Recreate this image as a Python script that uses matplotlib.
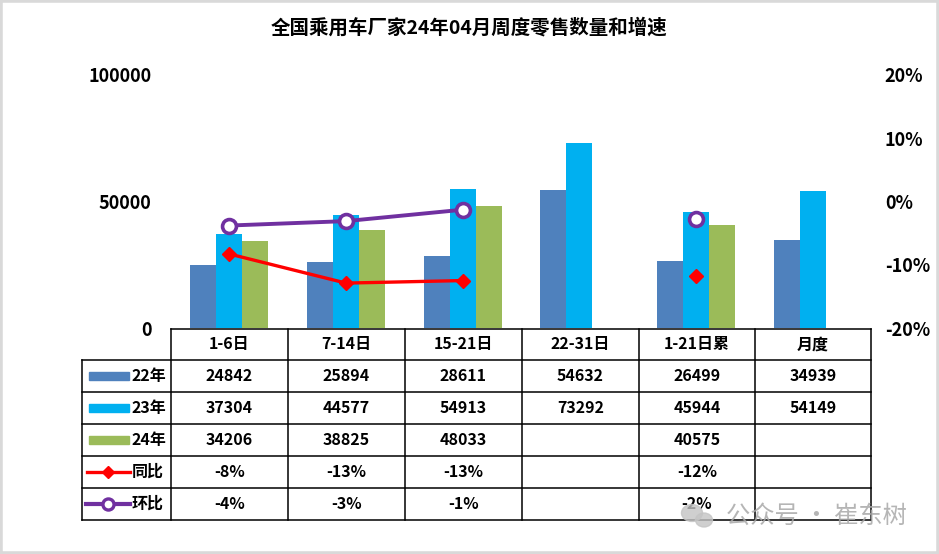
import numpy as np
import matplotlib.pyplot as plt
from matplotlib.patches import Rectangle, Ellipse

plt.rcParams['font.family'] = ['Noto Sans CJK SC', 'DejaVu Sans']

# data
periods = ['1-6日', '7-14日', '15-21日', '22-31日', '1-21日累', '月度']
sales_22 = [24842, 25894, 28611, 54632, 26499, 34939]
sales_23 = [37304, 44577, 54913, 73292, 45944, 54149]
sales_24 = [34206, 38825, 48033, np.nan, 40575, np.nan]
yoy = [-8.3, -12.9, -12.5, np.nan, -11.7, np.nan]     # 同比 %
mom = [-3.8, -3.1, -1.3, np.nan, -2.8, np.nan]       # 环比 %
yoy_txt = ['-8%', '-13%', '-13%', '', '-12%', '']
mom_txt = ['-4%', '-3%', '-1%', '', '-2%', '']

c22, c23, c24 = '#4F81BD', '#00B0F0', '#9BBB59'
cred, cpur = '#FF0000', '#7030A0'

W, H = 939, 554
fig = plt.figure(figsize=(W / 100, H / 100), dpi=100)

def fx(px):
    return px / W

def fy(py):
    return 1 - py / H

# main chart area
left, right, top, bot = 171, 871, 75, 328
ax = fig.add_axes([fx(left), fy(bot), fx(right - left), (bot - top) / H])
x = np.arange(len(periods))
bw = 0.222
ax.bar(x - bw, sales_22, bw, color=c22)
ax.bar(x, sales_23, bw, color=c23)
ax.bar(x + bw, sales_24, bw, color=c24)
ax.set_xlim(-0.5, len(periods) - 0.5)
ax.set_ylim(0, 100000)
ax.set_yticks([0, 50000, 100000])
ax.set_xticks([])
for s in ax.spines.values():
    s.set_visible(False)
ax.tick_params(axis='y', length=0, pad=14, labelsize=13)
for lab in ax.get_yticklabels():
    lab.set_fontweight('bold')

ax2 = ax.twinx()
ax2.plot(x, yoy, color=cred, lw=2.4, marker='D', ms=7, mec=cred, mfc=cred)
ax2.plot(x, mom, color=cpur, lw=2.8, marker='o', ms=10, mfc='white', mec=cpur, mew=2.6)
ax2.set_ylim(-20, 20)
ax2.set_yticks([-20, -10, 0, 10, 20])
ax2.set_yticklabels(['-20%', '-10%', '0%', '10%', '20%'])
for s in ax2.spines.values():
    s.set_visible(False)
ax2.tick_params(axis='y', length=0, pad=10, labelsize=13)
for lab in ax2.get_yticklabels():
    lab.set_fontweight('bold')

fig.text(0.5, fy(28), '全国乘用车厂家24年04月周度零售数量和增速', ha='center', va='center',
         fontsize=14, fontweight='bold')

# data table drawn under the chart
tab = fig.add_axes([0, 0, 1, 1], zorder=-1)
tab.set_xlim(0, W)
tab.set_ylim(H, 0)
tab.axis('off')
col_edges = [171, 288, 405, 522, 639, 755, 871]
row_edges = [329, 360, 392, 424, 456, 488, 520]
lab_left = 82
lk = dict(color='black', lw=1.1)
tab.plot([col_edges[0], col_edges[-1]], [row_edges[0]] * 2, **lk)
for ry in row_edges[1:]:
    tab.plot([lab_left, col_edges[-1]], [ry, ry], **lk)
for cx in col_edges:
    tab.plot([cx, cx], [row_edges[0], row_edges[-1]], **lk)
tab.plot([lab_left, lab_left], [row_edges[1], row_edges[-1]], **lk)

centers = [(a + b) / 2 for a, b in zip(col_edges[:-1], col_edges[1:])]
rmid = [(a + b) / 2 for a, b in zip(row_edges[:-1], row_edges[1:])]
tk = dict(ha='center', va='center', fontsize=11.5, fontweight='bold')
for i, p in enumerate(periods):
    tab.text(centers[i], rmid[0], p, **tk)

def fmt(v):
    return '' if np.isnan(v) else str(int(v))

rows = [[fmt(v) for v in sales_22], [fmt(v) for v in sales_23],
        [fmt(v) for v in sales_24], yoy_txt, mom_txt]
for r, vals in enumerate(rows):
    for i, t in enumerate(vals):
        tab.text(centers[i], rmid[r + 1], t, **tk)

# legend keys in the first column
names = ['22年', '23年', '24年', '同比', '环比']
for r, (nm, c) in enumerate(zip(names[:3], [c22, c23, c24])):
    yc = rmid[r + 1]
    tab.add_patch(Rectangle((89, yc - 4), 40, 8, color=c))
for r in range(5):
    tab.text(132, rmid[r + 1], names[r], ha='left', va='center', fontsize=11.5, fontweight='bold')
tab.plot([87, 130], [rmid[4]] * 2, color=cred, lw=2.4)
tab.plot([108], [rmid[4]], marker='D', ms=6, color=cred)
tab.plot([86, 130], [rmid[5]] * 2, color=cpur, lw=3)
tab.plot([108], [rmid[5]], marker='o', ms=8, mfc='white', mec=cpur, mew=2.4)

# watermark
tab.add_patch(Ellipse((692, 513), 21, 17, color='#c4c4c4', alpha=0.8, zorder=5))
tab.add_patch(Ellipse((704, 520), 17, 14, color='#c4c4c4', alpha=0.8, zorder=5))
tab.text(726, 516, '公众号 · 崔东树', ha='left', va='center', fontsize=17.5,
         color='#a8a8a8', alpha=0.85, zorder=5)

# outer frame
fig.patches.append(Rectangle((0, 0), 1, 1, transform=fig.transFigure, fill=False,
                             ec='#d9d9d9', lw=4))

fig.savefig('out.png', dpi=100)
